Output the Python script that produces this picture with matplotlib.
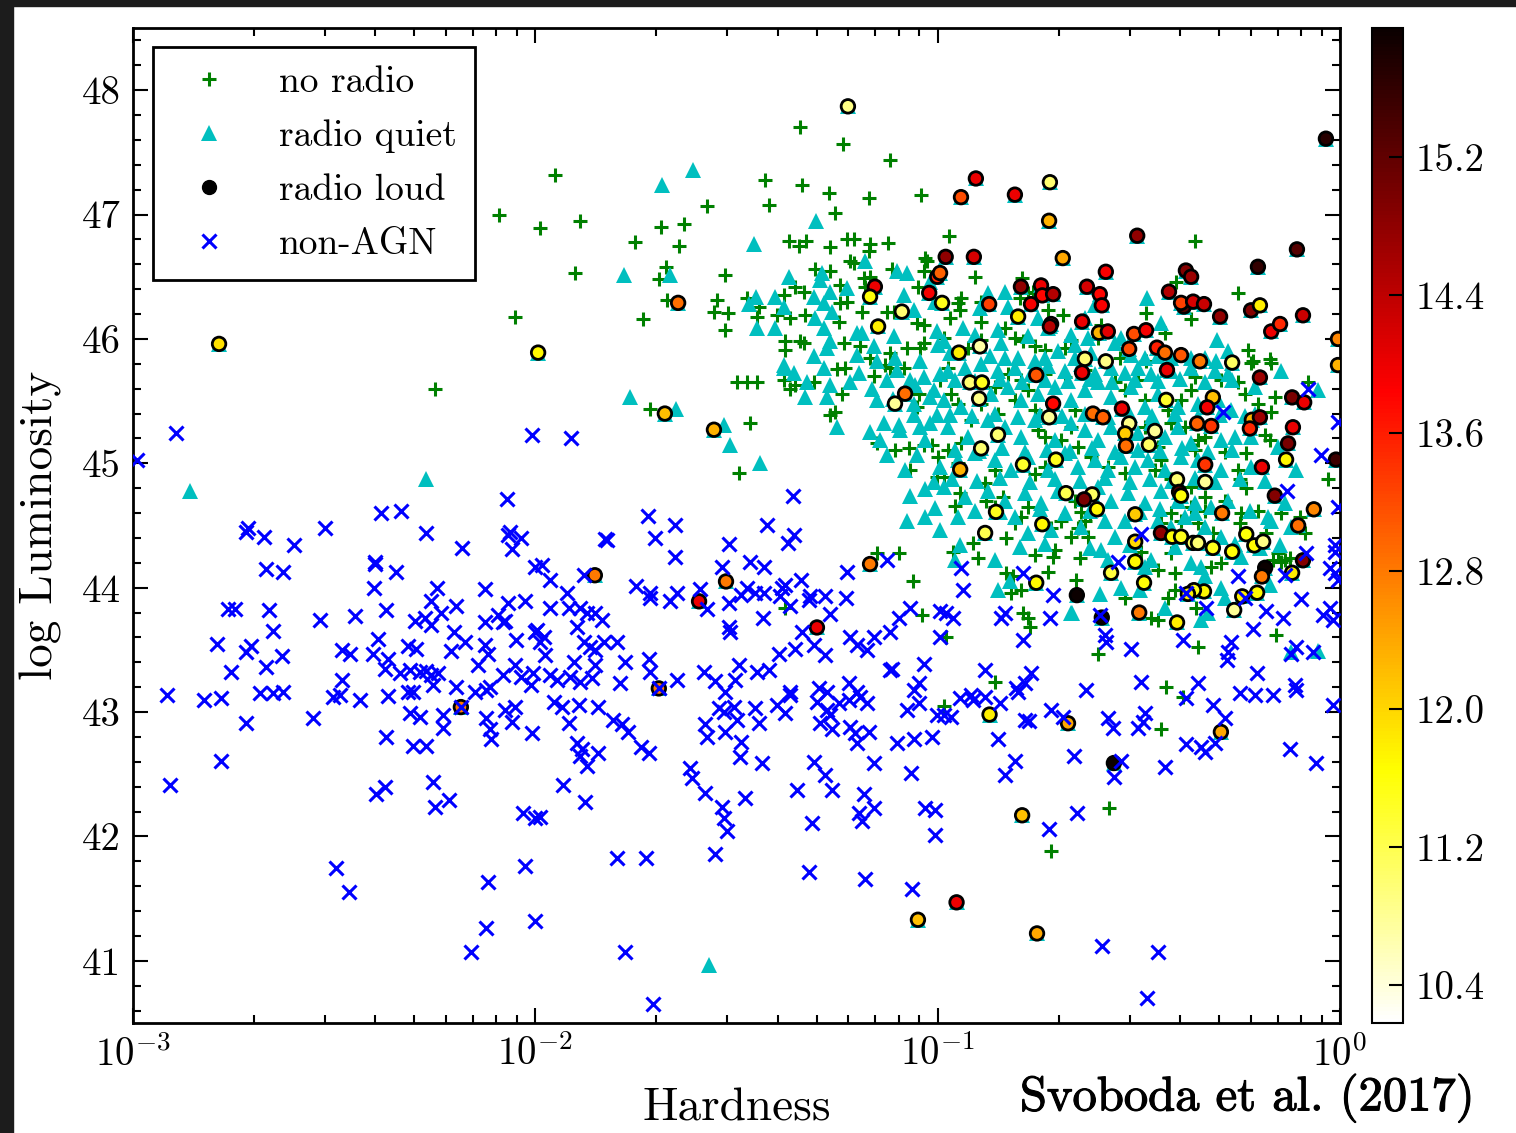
import numpy as np
import matplotlib
matplotlib.use('Agg')
import matplotlib.pyplot as plt
from matplotlib.lines import Line2D
from matplotlib.patches import Rectangle
from matplotlib.ticker import MultipleLocator, FuncFormatter
import matplotlib.patheffects as pe

plt.rcParams['font.family'] = 'cmr10'
plt.rcParams['mathtext.fontset'] = 'cm'
plt.rcParams['axes.unicode_minus'] = False

# non-AGN: log10(hardness), log luminosity
nonagn_logh = [-2.99, -2.893, -2.008, -2.384, -2.334, -2.070, -2.714, -2.72, -2.674, -2.60, -2.523, -2.272, -2.182, -2.063, -2.068, -2.036, -2.058, -2.669, -2.627, -2.398, -2.398, -2.346, -2.0, -2.401, -2.244, -2.125, -2.764, -2.746, -2.662, -2.535, -2.448, -2.371, -2.259, -2.234, -2.197, -2.068, -2.026, -2.093, -2.08, -2.075, -2.125, -2.299, -2.274, -2.259, -2.652, -2.791, -2.719, -2.707, -2.630, -2.480, -2.460, -2.391, -2.403, -2.366, -2.316, -2.297, -2.202, -2.175, -2.21, -2.125, -2.118, -2.048, -2.0, -2.756, -2.669, -2.480, -2.374, -2.336, -2.311, -2.287, -2.272, -2.259, -2.242, -2.254, -2.142, -2.08, -2.05, -2.036, -2.006, -2.011, -2.197, -2.15, -2.123, -2.113, -2.915, -2.823, -2.781, -2.684, -2.652, -2.627, -2.503, -2.485, -2.436, -2.366, -2.316, -2.304,
               -2.719, -2.553, -2.311, -2.287, -2.229, -2.229, -2.123, -2.113, -2.11, -2.075, -2.05, -2.058, -2.008, -2.371, -2.304, -2.272, -2.781, -2.908, -2.396, -2.374, -2.254, -2.249, -2.214, -2.031, -2.0, -2.495, -2.463, -2.118, -2.026, -2.0, -2.123, -2.16, -2.185,
               -1.911, -1.359, -1.720, -1.653, -1.703, -1.827, -1.822, -1.653, -1.519, -1.424, -1.357, -1.372, -1.983, -1.963, -1.879, -1.750, -1.715, -1.715, -1.665, -1.648, -1.536, -1.466, -1.432, -1.474, -1.489, -1.454, -1.432, -1.591, -1.519, -1.573, -1.387, -1.379, -1.392, -1.34, -1.367, -1.317, -1.320, -1.28, -1.225, -1.228, -1.267, -1.126, -1.069, -1.096, -1.434, -1.519, -1.516, -1.337, -1.307, -1.28, -1.218, -1.20, -1.158, -1.176, -1.118, -1.394, -1.354, -1.034, -0.994, -0.994, -1.996, -1.978, -1.988, -1.963, -1.921, -1.916, -1.889, -1.871, -1.852, -1.834, -1.896, -1.879, -1.864, -1.852, -1.829, -1.797, -1.976, -1.904, -1.852, -1.777, -1.717, -1.963, -1.946, -1.914, -1.889, -1.859, -1.789, -1.715, -1.648, -1.581, -1.553, -1.529, -1.494, -1.504, -1.449, -1.419, -1.367, -1.295, -1.275, -1.220, -1.2, -1.118, -1.113, -1.046, -1.059, -1.693,
               -1.953, -1.933, -1.891, -1.844, -1.916, -1.807, -1.785, -1.770, -1.896, -1.884, -1.889, -1.871, -1.844, -1.737, -1.717, -1.931, -1.876, -1.988, -1.578, -1.573, -1.531, -1.543, -1.506, -1.499, -1.529, -1.489, -1.491, -1.436, -1.454, -1.444, -1.399, -1.379, -1.367, -1.30, -1.275, -1.267, -1.292, -1.263, -1.245, -1.218, -1.205, -1.20, -1.171, -1.22, -1.193, -1.176, -1.101, -1.059, -1.014, -1.076, -1.046, -1.001, -1.615, -1.61, -1.578, -1.536, -1.531, -1.523, -1.479, -1.350, -1.307, -1.28, -1.263, -1.158, -1.183, -1.195, -1.188, -1.158, -1.312, -1.066, -1.031, -1.006, -1.006, -1.797, -1.725, -1.553, -1.320, -1.180, -1.064, -1.777, -1.707,
               -0.983, -0.968, -0.945, -0.918, -0.913, -0.883, -0.846, -0.80, -0.851, -0.808, -0.833, -0.784, -0.772, -0.719, -0.689, -0.662, -0.631, -0.577, -0.565, -0.544, -0.562, -0.502, -0.489, -0.484, -0.435, -0.383, -0.383, -0.345, -0.335, -0.311, -0.316, -0.286, -0.248, -0.211, -0.167, -0.109, -0.124, -0.06, -0.017, -0.654, -0.724, -0.592, -0.452, -0.479,
               -0.079, -0.291, -0.005, -0.047, -0.132, -0.005, -0.495, -0.552, -0.084, -0.012, -0.012, -0.025, -0.012, -0.005, -0.943, -0.938, -0.789, -0.714, -0.253, -0.137, -0.980, -0.962, -0.843, -0.833, -0.721, -0.597, -0.584, -0.582, -0.789, -0.519, -0.390, -0.383, -0.333, -0.236, -0.184, -0.142, -0.216, -0.097, -0.042, -0.025, -0.017, -0.271, -0.278, -0.281, -0.109, -0.067, -0.122, -0.883, -0.805, -0.784, -0.769, -0.495, -0.353, -0.206, -0.112]
nonagn_lum = [45.03, 45.24, 45.23, 44.60, 44.62, 44.71, 44.48, 44.45, 44.41, 44.34, 44.48, 44.44, 44.32, 44.45, 44.42, 44.40, 44.31, 44.15, 44.13, 44.21, 44.19, 44.13, 44.17, 44.0, 44.0, 43.99, 43.83, 43.83, 43.82, 43.74, 43.77, 43.82, 43.89, 43.80, 43.85, 43.88, 43.89, 43.78, 43.72, 43.73, 43.72, 43.73, 43.76, 43.70, 43.65, 43.55, 43.48, 43.53, 43.45, 43.50, 43.47, 43.59, 43.47, 43.43, 43.53, 43.51, 43.64, 43.56, 43.49, 43.54, 43.47, 43.58, 43.64, 43.32, 43.36, 43.26, 43.35, 43.31, 43.34, 43.32, 43.33, 43.30, 43.31, 43.22, 43.38, 43.30, 43.38, 43.28, 43.31, 43.22, 43.20, 43.16, 43.18, 43.20, 43.14, 43.10, 43.11, 43.15, 43.15, 43.16, 43.12, 43.14, 43.10, 43.13, 43.16, 43.16,
              42.91, 42.95, 42.99, 42.96, 42.98, 42.87, 42.95, 42.86, 42.78, 43.02, 43.04, 42.92, 42.83, 42.80, 42.73, 42.73, 42.61, 42.41, 42.34, 42.40, 42.44, 42.24, 42.29, 42.19, 42.15, 41.75, 41.55, 41.63, 41.76, 41.32, 41.26, 41.07, 43.04,
              45.20, 44.74, 44.58, 44.50, 44.40, 44.39, 44.38, 44.25, 44.35, 44.50, 44.42, 44.36, 44.18, 44.06, 44.10, 44.01, 43.96, 43.92, 43.89, 43.96, 44.17, 44.21, 44.17, 44.00, 43.94, 43.96, 43.96, 43.99, 43.88, 43.83, 44.0, 44.02, 43.93, 44.06, 43.85, 43.93, 43.90, 43.93, 44.13, 43.92, 43.79, 44.22, 43.84, 43.76, 43.76, 43.68, 43.64, 43.64, 43.54, 43.46, 43.60, 43.54, 43.60, 43.50, 43.64, 43.47, 43.51, 43.39, 43.81, 43.60, 43.66, 43.60, 43.56, 43.84, 43.96, 43.84, 43.84, 43.80, 43.80, 43.74, 43.68, 43.56, 43.52, 43.50, 43.56, 43.56, 43.46, 43.40, 43.38, 43.40, 43.43, 43.30, 43.26, 43.28, 43.24, 43.27, 43.23, 43.32, 43.26, 43.32, 43.25, 43.16, 43.38, 43.26, 43.32, 43.34, 43.16, 43.19, 43.16, 43.23, 43.16, 43.34, 43.35, 43.23, 43.18, 43.19,
              43.08, 43.04, 43.06, 43.04, 42.91, 42.94, 42.90, 42.84, 42.75, 42.70, 42.65, 42.57, 42.67, 42.72, 42.67, 42.41, 42.28, 42.16, 42.90, 42.80, 43.00, 43.03, 43.04, 42.94, 42.84, 42.76, 42.64, 42.59, 43.03, 42.91, 43.06, 42.99, 43.14, 43.08, 43.02, 42.98, 42.91, 42.86, 43.07, 42.88, 42.83, 42.75, 42.84, 43.10, 43.12, 43.07, 42.75, 42.78, 42.80, 43.02, 43.07, 42.98, 42.55, 42.47, 42.35, 42.24, 42.15, 42.04, 42.31, 42.37, 42.60, 42.49, 42.37, 42.59, 42.34, 42.19, 42.12, 42.23, 42.11, 42.51, 42.23, 42.21, 42.01, 41.83, 41.83, 41.86, 41.71, 41.66, 41.58, 41.07, 40.65,
              42.98, 42.96, 43.11, 43.14, 43.10, 43.12, 43.07, 43.16, 42.78, 42.61, 42.49, 42.94, 42.93, 43.02, 42.96, 42.65, 43.18, 42.95, 42.87, 42.61, 42.48, 42.87, 42.92, 42.99, 42.56, 43.11, 42.74, 42.72, 42.68, 42.75, 43.06, 42.95, 43.15, 43.14, 43.14, 43.18, 42.70, 42.59, 43.06, 42.19, 42.06, 41.12, 41.07, 40.70,
              45.60, 45.41, 45.33, 45.07, 44.78, 44.65, 44.43, 44.21, 44.28, 44.34, 44.29, 44.16, 44.12, 44.06, 44.16, 43.98, 44.12, 43.94, 44.09, 44.10, 43.80, 43.76, 43.76, 43.80, 43.76, 43.78, 43.62, 43.56, 43.58, 43.51, 43.58, 43.96, 43.84, 43.92, 43.81, 43.76, 43.67, 43.91, 43.78, 43.84, 43.74, 43.56, 43.48, 43.42, 43.52, 43.48, 43.47, 43.34, 43.19, 43.23, 43.31, 43.24, 43.23, 43.31, 43.22]

# no radio
noradio_logh = [-2.090, -2.05, -1.988, -2.249, -1.951, -1.889, -1.901, -1.752, -1.688, -1.630, -1.643, -1.573, -1.675, -1.693, -1.673, -1.732, -1.528, -1.548, -1.556, -1.521, -1.528, -1.429, -1.419, -1.342, -1.337, -1.270, -1.255, -1.235, -1.118, -1.171, -1.041, -1.369, -1.344, -1.327, -1.267, -1.225, -1.208, -1.168, -1.171, -1.123, -1.218, -1.208, -1.031, -1.026, -1.034, -1.305, -1.267, -1.113, -1.183, -1.168, -1.180, -1.354, -1.332, -1.243, -1.049, -1.382, -1.474, -1.444, -1.399, -1.367, -1.330, -1.243, -1.225, -1.245, -1.188, -1.126, -1.108, -1.051, -1.034, -1.233, -1.193, -1.168, -1.118, -1.379, -1.379, -1.332, -1.342, -1.076, -1.044, -1.034, -1.130, -1.449,
                -1.499, -1.474, -1.449, -1.382, -1.367, -1.354, -1.307, -1.715, -1.466, -1.494, -1.267, -1.255, -1.25, -1.230, -1.238, -1.158, -1.118, -1.083, -1.151, -1.106, -1.071, -1.034, -1.014, -1.069, -1.001, -1.046, -1.051, -1.151, -1.096, -1.061, -1.039, -1.379,
                -0.983, -0.445, -0.574, -0.718, -0.39,
                -0.973, -0.908, -0.790, -0.360, -0.407, -0.253, -0.482, -0.370, -0.435, -0.689, -0.726, -0.229, -0.216, -0.174, -0.547, -0.482, -0.943, -0.950, -0.945, -0.892, -0.892, -0.795, -0.775, -0.763, -0.833, -0.808, -0.789, -0.758, -0.733, -0.892, -0.924, -0.969, -0.983, -0.594, -0.602, -0.668, -0.683,
                -0.030, -0.171, -0.079, -0.186, -0.174, -0.248, -0.233, -0.099, -0.087, -0.154, -0.137, -0.124, -0.159, -0.353, -0.432, -0.602, -0.978, -0.858, -0.770, -0.962, -0.900, -0.913, -0.830, -0.830, -0.813, -0.818, -0.793, -0.758, -0.726, -0.708, -0.713, -0.789, -0.775, -0.656, -0.646, -0.534, -0.495, -0.477, -0.452, -0.420, -0.410, -0.427, -0.410, -0.358, -0.470, -0.452, -0.320, -0.296, -0.204, -0.184, -0.147, -0.167, -0.147, -0.316, -0.353, -0.335, -0.286, -0.246, -0.204, -0.248, -0.420, -0.445, -0.395, -0.651, -0.634, -0.668, -0.626, -0.693, -0.718, -0.808, -0.793, -0.775, -0.880, -0.858, -0.838, -0.958, -0.945, -0.950, -0.983, -0.883, -0.858, -0.758, -0.733, -0.783, -0.659, -0.644, -0.621, -0.619, -0.577, -0.534, -0.460, -0.445, -0.420, -0.370, -0.335, -0.370, -0.360, -0.353, -0.335, -0.286, -0.253, -0.233, -0.427, -0.395, -0.370, -0.360, -0.484, -0.502, -0.534, -0.559, -0.221, -0.171, -0.296, -0.253, -0.236, -0.162, -0.204, -0.634, -0.683, -0.733, -0.793, -0.825, -0.858, -0.975, -0.993, -0.968, -0.950, -0.918, -0.892, -0.851, -0.808, -0.775, -0.758, -0.733, -0.750, -0.693, -0.975, -0.943, -1.0, -0.651, -0.668, -0.659, -0.452, -0.484, -0.420, -0.385]
noradio_lum = [47.0, 46.18, 46.89, 45.60, 47.32, 46.95, 46.53, 46.78, 46.90, 46.92, 46.75, 47.07, 46.58, 46.48, 46.31, 46.16, 46.51, 46.31, 46.22, 46.21, 46.07, 47.28, 47.08, 47.70, 47.24, 47.17, 47.01, 47.57, 47.44, 47.13, 47.16, 46.79, 46.75, 46.79, 46.74, 46.80, 46.80, 46.76, 46.71, 46.77, 46.63, 46.61, 46.65, 46.63, 46.55, 46.56, 46.55, 46.56, 46.49, 46.50, 46.42, 46.42, 46.38, 46.43, 46.42, 46.35, 46.33, 46.26, 46.19, 46.17, 46.19, 46.29, 46.30, 46.14, 46.22, 46.22, 46.22, 46.13, 46.11, 45.97, 45.94, 45.85, 45.89, 45.98, 45.91, 45.97, 45.98, 45.93, 45.93, 45.97, 45.79, 46.18,
               45.65, 45.65, 45.65, 45.67, 45.60, 45.63, 45.65, 45.44, 45.32, 44.92, 45.39, 45.41, 45.76, 45.77, 45.56, 45.70, 45.77, 45.77, 45.16, 45.11, 45.12, 45.15, 45.15, 44.95, 44.89, 45.56, 45.45, 44.28, 44.28, 44.05, 43.78, 43.84,
               43.05, 42.86, 42.23, 41.88, 43.12,
               46.83, 46.50, 46.49, 46.79, 46.46, 46.37, 46.21, 46.16, 46.05, 46.19, 46.23, 45.91, 45.82, 45.84, 45.85, 45.82, 46.33, 46.29, 46.23, 46.30, 46.14, 46.33, 46.37, 46.38, 46.09, 46.01, 45.98, 45.94, 45.91, 45.99, 45.93, 46.17, 46.01, 46.11, 46.01, 45.99, 45.93,
               44.87, 45.41, 45.65, 45.23, 45.19, 44.87, 44.80, 44.57, 44.44, 44.28, 44.22, 44.24, 43.62, 43.52, 43.20, 43.47, 43.60, 43.24, 43.68, 44.29, 44.24, 44.36, 44.40, 44.12, 44.09, 43.96, 43.98, 44.26, 44.13, 44.30, 44.25, 43.80, 43.76, 44.06, 44.24, 43.92, 44.29, 44.18, 44.14, 44.28, 44.12, 43.92, 43.98, 43.84, 43.76, 43.74, 44.17, 44.20, 44.32, 44.44, 44.60, 44.22, 44.21, 44.44, 44.52, 44.62, 44.70, 44.60, 44.62, 44.52, 44.60, 44.52, 44.54, 44.48, 44.54, 44.41, 44.41, 44.54, 44.48, 44.52, 44.57, 44.65, 44.70, 44.65, 44.73, 44.66, 44.76, 45.00, 44.89, 44.84, 44.95, 44.91, 44.97, 45.00, 44.70, 44.61, 44.60, 45.05, 44.97, 44.92, 44.95, 45.03, 44.87, 44.81, 44.73, 44.65, 45.11, 45.19, 45.21, 45.09, 44.95, 45.08, 45.43, 45.51, 45.59, 45.69, 45.51, 45.67, 45.59, 45.65, 45.81, 45.81, 45.67, 45.65, 45.56, 45.53, 45.48, 45.75, 45.69, 45.72, 45.67, 45.72, 45.61, 45.77, 45.67, 45.56, 45.48, 45.35, 45.48, 45.40, 45.51, 45.59, 45.43, 45.21, 45.27, 45.19, 45.11, 45.16, 45.05, 45.13, 45.29, 45.43, 45.13, 45.29, 45.32, 45.29]

# radio quiet
quiet_logh = [-2.858, -2.272, -1.608, -1.685, -1.302, -1.456, -1.780, -1.665, -1.369, -1.451, -1.469, -1.404, -1.382, -1.449, -1.404, -1.287, -1.292, -1.267, -1.225, -1.180, -1.101, -1.076, -1.307, -1.282, -1.263, -1.305, -1.282, -1.267, -1.20, -1.188, -1.158, -1.108, -1.083, -1.059, -1.006, -1.001, -1.307, -1.275, -1.20, -1.151, -1.106, -1.044, -1.382, -1.019,
              -1.765, -1.650, -1.531, -1.516, -1.441, -1.382, -1.357, -1.325, -1.330, -1.282, -1.267, -1.275, -1.218, -1.195, -1.250, -1.168, -1.133, -1.096, -1.059, -1.044, -1.019, -1.001, -1.126, -1.051, -1.069, -1.031, -1.006, -1.009, -1.151, -1.126, -1.101, -1.069, -1.034, -1.009, -0.994, -1.059, -1.019,
              -1.568, -0.055, -0.666,
              -0.479, -0.445, -0.306, -0.278, -0.875, -0.833, -0.895, -0.825, -0.937, -0.908, -0.851, -0.843, -0.983, -0.969, -1.0, -0.870, -0.833, -0.800, -0.775, -0.750, -0.726, -0.758, -0.733, -0.701, -0.668, -0.659, -0.626, -0.619, -0.659, -0.634, -0.609, -0.559, -0.544, -0.519, -0.484, -0.452, -0.420, -0.370, -0.335, -0.308,
              -0.975, -0.933, -0.892, -0.851, -0.808, -0.768, -0.726, -0.683, -0.644, -0.609, -0.569, -0.534, -0.502, -0.470, -0.420, -0.370, -0.311, -0.278, -0.211, -0.055, -0.147,
              -0.983, -0.943, -0.867, -0.825, -0.793, -0.750, -0.708, -0.668, -0.634, -0.602, -0.569, -0.519, -0.484, -0.452, -0.403, -0.353, -0.303, -0.271, -0.211,
              -0.975, -0.925, -0.875, -0.833, -0.793, -0.758, -0.708, -0.668, -0.634, -0.602, -0.569, -0.534, -0.502, -0.470, -0.435, -0.403, -0.370, -0.296, -0.261, -0.221, -0.154,
              -0.993, -0.950, -0.908, -0.858, -0.818, -0.775, -0.726, -0.683, -0.651, -0.609, -0.577, -0.544, -0.509, -0.477, -0.435, -0.395, -0.353, -0.296, -0.221, -0.109,
              -0.983, -0.933, -0.875, -0.833, -0.783, -0.743, -0.701, -0.602, -0.569, -0.527, -0.484, -0.445, -0.403, -0.360, -0.320, -0.278, -0.179, -0.137,
              -0.950, -0.808, -0.775, -0.718, -0.644, -0.584, -0.559, -0.534, -0.452, -0.420, -0.385, -0.335, -0.296, -0.246, -0.171, -0.122,
              -0.958, -0.858, -0.851, -0.594, -0.577, -0.544, -0.484, -0.470, -0.435, -0.370, -0.345, -0.335, -0.328, -0.345, -0.296, -0.668, -0.122,
              -0.958, -0.908, -0.846, -0.791, -0.734, -0.677, -0.622, -0.567, -0.510, -0.453, -0.398, -0.336, -0.269,
              -0.970, -0.915, -0.858, -0.801, -0.746, -0.692, -0.635, -0.577, -0.523, -0.468, -0.411, -0.354, -0.299, -0.237,
              -0.958, -0.896, -0.841, -0.784, -0.727, -0.672, -0.617, -0.560, -0.503, -0.448, -0.393, -0.329, -0.269,
              -0.965, -0.901, -0.846, -0.771, -0.709, -0.647, -0.585, -0.523, -0.473, -0.418, -0.361, -0.311, -0.249, -0.187,
              -0.908, -0.846, -0.746, -0.684, -0.622, -0.498, -0.448, -0.361, -0.224,
              -0.945, -0.796, -0.734, -0.622, -0.523, -0.411, -0.262, -0.200, -0.150,
              -0.821, -0.597, -0.498, -0.287, -0.175,
              -1.164, -1.112, -1.057, -1.144, -1.094, -1.032, -1.082, -1.032, -1.075, -0.995]
quiet_lum = [44.78, 44.87, 47.36, 47.24, 46.95, 46.76, 46.51, 46.51, 46.50, 46.34, 46.28, 46.34, 46.26, 46.09, 46.09, 46.53, 46.47, 46.38, 46.41, 46.63, 46.55, 46.53, 46.34, 46.29, 46.22, 46.17, 46.09, 45.98, 46.05, 46.05, 45.94, 46.02, 46.35, 46.23, 46.30, 46.06, 45.86, 45.93, 45.87, 45.82, 45.85, 45.82, 45.79, 46.46,
             45.53, 45.44, 45.31, 45.15, 45.00, 45.77, 45.73, 45.65, 45.53, 45.77, 45.63, 45.53, 45.65, 45.73, 45.29, 45.25, 45.32, 45.31, 45.39, 45.29, 45.32, 45.39, 45.07, 45.07, 44.74, 44.57, 44.64, 44.85, 45.51, 45.67, 45.75, 45.67, 45.69, 45.59, 45.72, 45.48, 45.53,
             40.97, 43.49, 43.80,
             46.33, 46.13, 45.99, 45.90, 46.37, 46.38, 46.25, 46.26, 46.09, 46.03, 46.07, 45.97, 45.98, 45.89, 45.95, 45.86, 45.85, 45.85, 46.02, 46.17, 46.09, 45.82, 45.85, 45.90, 46.03, 45.95, 46.01, 45.89, 45.85, 46.17, 46.27, 45.97, 46.01, 45.87, 45.85, 45.86, 45.85, 45.85, 45.85, 45.82,
             45.74, 45.77, 45.80, 45.74, 45.77, 45.72, 45.78, 45.74, 45.80, 45.72, 45.77, 45.73, 45.77, 45.72, 45.74, 45.77, 45.74, 45.72, 45.61, 45.59, 45.74,
             45.51, 45.45, 45.56, 45.61, 45.51, 45.56, 45.61, 45.51, 45.59, 45.65, 45.53, 45.61, 45.45, 45.56, 45.45, 45.48, 45.51, 45.43, 45.40,
             45.29, 45.21, 45.35, 45.29, 45.21, 45.35, 45.19, 45.32, 45.27, 45.19, 45.29, 45.16, 45.24, 45.32, 45.21, 45.29, 45.16, 45.19, 45.21, 45.21, 45.13,
             44.97, 45.03, 45.08, 45.03, 44.95, 45.05, 44.95, 45.08, 44.97, 45.03, 44.95, 45.05, 44.97, 45.03, 44.95, 45.05, 45.03, 44.95, 44.97, 44.95,
             44.81, 44.73, 44.78, 44.70, 44.76, 44.68, 44.78, 44.81, 44.70, 44.76, 44.68, 44.78, 44.70, 44.68, 44.65, 44.70, 44.57, 44.68,
             44.57, 44.57, 44.44, 44.46, 44.49, 44.54, 44.41, 44.54, 44.54, 44.49, 44.57, 44.49, 44.41, 44.25, 44.54, 44.49,
             44.22, 44.22, 43.98, 44.30, 44.22, 44.0, 44.17, 44.22, 43.84, 44.20, 44.17, 44.09, 43.80, 43.74, 44.0, 43.80, 43.48,
             45.67, 45.66, 45.68, 45.65, 45.67, 45.66, 45.68, 45.65, 45.67, 45.66, 45.68, 45.65, 45.67,
             45.39, 45.38, 45.40, 45.37, 45.39, 45.38, 45.40, 45.37, 45.39, 45.38, 45.40, 45.37, 45.39, 45.38,
             45.11, 45.10, 45.12, 45.09, 45.11, 45.10, 45.12, 45.09, 45.11, 45.10, 45.12, 45.09, 45.11,
             44.87, 44.86, 44.88, 44.85, 44.87, 44.86, 44.88, 44.85, 44.87, 44.86, 44.88, 44.85, 44.87, 44.86,
             44.62, 44.61, 44.63, 44.60, 44.62, 44.61, 44.63, 44.60, 44.62,
             44.34, 44.33, 44.35, 44.32, 44.34, 44.33, 44.35, 44.32, 44.34,
             44.05, 43.95, 43.98, 43.92, 44.02,
             45.60, 45.52, 45.63, 45.19, 45.27, 45.19, 44.95, 44.79, 44.54, 44.46]

# radio loud, colour = third quantity on the colour bar
loud_logh = [-2.786, -1.993, -1.223, -1.645, -1.156, -1.168, -1.089, -1.148, -1.021, -1.001, -0.994, -0.980, -0.989,
             -0.905, -0.942, -0.808, -0.721, -0.723, -0.689, -0.504, -0.035, -0.107, -0.204, -0.910, -0.582, -0.383, -0.370, -0.425, -0.793, -0.743, -0.740, -0.713, -0.768, -0.629, -0.597, -0.592, -0.872, -0.800, -0.718, -0.721, -0.641, -0.599, -0.577, -0.512, -0.482, -0.388, -0.395, -0.365, -0.338, -0.298, -0.221, -0.199, -0.171, -0.149, -0.092, -0.005, -0.895, -0.947, -0.634, -0.582, -0.524, -0.455, -0.435, -0.395, -0.348, -0.268, -0.005,
             -0.920, -0.890, -0.897, -0.755, -0.641, -0.430, -0.199, -0.119, -0.089, -0.316, -0.330, -0.713, -0.723, -0.614, -0.589, -0.542, -0.524, -0.534, -0.532, -0.460, -0.475, -0.432, -0.355, -0.320, -0.219, -0.199, -0.224, -0.117, -0.129, -0.134, -0.194, -0.010, -0.335, -0.405, -0.335, -0.400, -0.395, -0.162, -0.065, -0.104, -0.293, -0.850, -0.892, -0.944, -0.788, -0.706, -0.681, -0.616, -0.636, -0.604, -0.855, -0.740, -0.882, -0.509, -0.445, -0.417, -0.395, -0.365, -0.353, -0.316, -0.268, -0.233, -0.213, -0.191, -0.092, -0.186, -0.194, -0.119, -0.206, -0.243, -0.263, -0.338, -0.363, -0.378, -0.405, -0.499, -0.487, -0.509, -0.509, -0.569, -0.755, -0.654, -0.592,
             -1.678, -1.556, -1.081, -1.106, -1.852, -1.526, -1.593, -1.300, -1.168, -1.693, -2.185,
             -0.871, -0.676, -0.562, -0.296, -0.790, -0.953, -0.753, -1.049]
loud_lum = [45.96, 45.89, 47.87, 46.29, 46.42, 46.34, 46.22, 46.10, 46.37, 46.50, 46.53, 46.66, 46.29,
            47.29, 47.14, 47.16, 47.26, 46.95, 46.65, 46.83, 47.61, 46.72, 46.58, 46.66, 46.54, 46.55, 46.50, 46.38, 46.42, 46.43, 46.35, 46.36, 46.28, 46.42, 46.36, 46.27, 46.28, 46.18, 46.12, 46.10, 46.14, 46.05, 46.06, 46.04, 46.07, 46.26, 46.29, 46.30, 46.28, 46.18, 46.23, 46.27, 46.06, 46.12, 46.19, 46.0, 45.94, 45.89, 45.84, 45.82, 45.92, 45.93, 45.89, 45.87, 45.82, 45.81, 45.79,
            45.65, 45.65, 45.52, 45.71, 45.73, 45.75, 45.69, 45.53, 45.49, 45.53, 45.45, 45.48, 45.37, 45.40, 45.37, 45.44, 45.32, 45.24, 45.14, 45.26, 45.15, 45.51, 45.32, 45.30, 45.35, 45.37, 45.28, 45.29, 45.16, 45.03, 44.97, 45.03, 44.99, 44.87, 44.85, 44.77, 44.74, 44.74, 44.63, 44.50, 44.60, 45.23, 45.12, 44.95, 44.99, 45.03, 44.76, 44.75, 44.71, 44.63, 44.61, 44.51, 44.44, 44.59, 44.44, 44.41, 44.41, 44.36, 44.36, 44.32, 44.29, 44.43, 44.34, 44.37, 44.22, 44.16, 44.09, 44.12, 43.96, 43.93, 43.82, 43.97, 43.98, 43.95, 43.72, 43.80, 44.04, 44.21, 44.37, 44.12, 44.04, 43.94, 43.76,
            45.40, 45.27, 45.56, 45.48, 44.10, 44.05, 43.89, 43.68, 44.19, 43.19, 43.04,
            42.98, 42.91, 42.59, 42.84, 42.17, 41.47, 41.22, 41.33]
loud_val = [11.9, 11.7, 10.9, 12.9, 14.0, 11.6, 11.0, 11.8, 13.9, 13.5, 13.0, 14.8, 11.5,
            14.0, 13.2, 14.0, 11.0, 12.3, 12.4, 14.8, 15.7, 15.3, 15.6, 14.2, 13.9, 14.9, 14.7, 14.5, 14.8, 14.0, 13.8, 14.5, 13.9, 14.2, 13.8, 13.9, 13.3, 11.8, 13.3, 14.5, 14.0, 12.3, 14.1, 13.2, 13.9, 15.3, 13.3, 14.2, 14.3, 14.8, 14.9, 11.8, 14.0, 13.5, 14.3, 12.7, 10.7, 11.8, 11.0, 10.9, 13.2, 13.6, 12.9, 13.1, 12.8, 11.1, 12.3,
            11.0, 11.5, 10.9, 13.1, 14.0, 14.0, 14.7, 15.0, 14.0, 12.2, 13.9, 13.8, 10.8, 12.9, 13.0, 14.0, 10.9, 12.1, 12.9, 10.8, 11.1, 11.4, 13.0, 13.4, 12.3, 14.7, 13.5, 14.0, 15.0, 11.7, 14.0, 15.5, 13.4, 11.0, 10.8, 15.3, 11.6, 14.9, 12.7, 12.9, 12.8, 11.0, 11.0, 12.3, 11.4, 11.5, 11.2, 11.1, 15.0, 11.7, 11.5, 11.7, 11.2, 12.1, 14.8, 11.6, 11.5, 11.1, 11.0, 11.5, 11.6, 11.6, 11.7, 10.9, 14.9, 16.0, 12.8, 11.8, 11.7, 11.8, 10.8, 11.7, 11.5, 11.8, 11.8, 12.8, 11.6, 11.7, 12.0, 11.3, 11.7, 16.0, 16.0,
            12.2, 12.3, 12.9, 10.8, 12.8, 12.8, 14.0, 14.0, 12.8, 12.8, 12.8,
            11.8, 12.4, 16.0, 12.4, 12.2, 14.0, 12.4, 12.2]

cbar_ticks = [10.4, 11.2, 12.0, 12.8, 13.6, 14.4, 15.2]
ylim = (40.5, 48.5)
crange = (10.18, 15.95)

fig = plt.figure(figsize=(15.16, 11.33), dpi=100)
ax = fig.add_axes([0.0877, 0.0971, 0.7962, 0.8782])
cax = fig.add_axes([0.905, 0.0971, 0.0204, 0.8782])

ax.set_xscale('log')
ax.plot(10 ** np.array(noradio_logh), noradio_lum, ls='none', marker='+', ms=9.5, mew=2.2, color='g')
ax.plot(10 ** np.array(quiet_logh), quiet_lum, ls='none', marker='^', ms=11, mew=0, color='c')
ax.plot(10 ** np.array(loud_logh), loud_lum, ls='none', marker='^', ms=11, mew=0, color='c')
sc = ax.scatter(10 ** np.array(loud_logh), loud_lum, c=loud_val, cmap='hot_r',
                vmin=crange[0], vmax=crange[1], s=95, edgecolors='k', linewidths=2, zorder=3)
ax.plot(10 ** np.array(nonagn_logh), nonagn_lum, ls='none', marker='x', ms=9.5, mew=2.2, color='b', zorder=4)

ax.set_xlim(1e-3, 1)
ax.set_ylim(*ylim)
ax.xaxis.set_major_formatter(FuncFormatter(lambda v, p: r'$10^{%d}$' % round(np.log10(v))))
ax.yaxis.set_major_locator(MultipleLocator(1))
ax.yaxis.set_minor_locator(MultipleLocator(0.2))
ax.tick_params(which='both', direction='in', top=True, right=True, width=1.5, labelsize=28, pad=9)
ax.tick_params(which='major', length=11)
ax.tick_params(which='minor', length=6)
for s in ax.spines.values():
    s.set_linewidth(2)

ax.set_xlabel('Hardness', fontsize=34, labelpad=10)
ax.set_ylabel('log Luminosity', fontsize=34, labelpad=14)

handles = [Line2D([], [], ls='none', marker='+', ms=9.5, mew=2.2, color='g'),
           Line2D([], [], ls='none', marker='^', ms=11, mew=0, color='c'),
           Line2D([], [], ls='none', marker='o', ms=10, color='k'),
           Line2D([], [], ls='none', marker='x', ms=9.5, mew=2.2, color='b')]
leg = ax.legend(handles, ['no radio', 'radio quiet', 'radio loud', 'non-AGN'],
                loc='upper left', bbox_to_anchor=(0.0166, 0.981), borderaxespad=0,
                fontsize=27, numpoints=1, handlelength=2.0, handletextpad=0.85,
                borderpad=0.5, labelspacing=0.55, fancybox=False, framealpha=1)
leg.get_frame().set_edgecolor('k')
leg.get_frame().set_linewidth(2)

cb = fig.colorbar(sc, cax=cax, ticks=cbar_ticks)
cb.ax.tick_params(direction='in', length=10, width=1.5, labelsize=28, pad=9)
cb.ax.yaxis.set_major_formatter(FuncFormatter(lambda v, p: '%.1f' % v))
cb.outline.set_linewidth(1.5)

fig.text(0.973, 0.031, 'Svoboda et al. (2017)', fontsize=35, ha='right', va='center',
         path_effects=[pe.withStroke(linewidth=0.8, foreground='k')])

# dark screenshot edges
fig.add_artist(Rectangle((0, 1 - 6 / 1133), 1, 6 / 1133, transform=fig.transFigure, color='#1c1c1c', zorder=10))
fig.add_artist(Rectangle((0, 0), 13 / 1516, 1, transform=fig.transFigure, color='#1c1c1c', zorder=10))

fig.savefig('out.png', dpi=100)
